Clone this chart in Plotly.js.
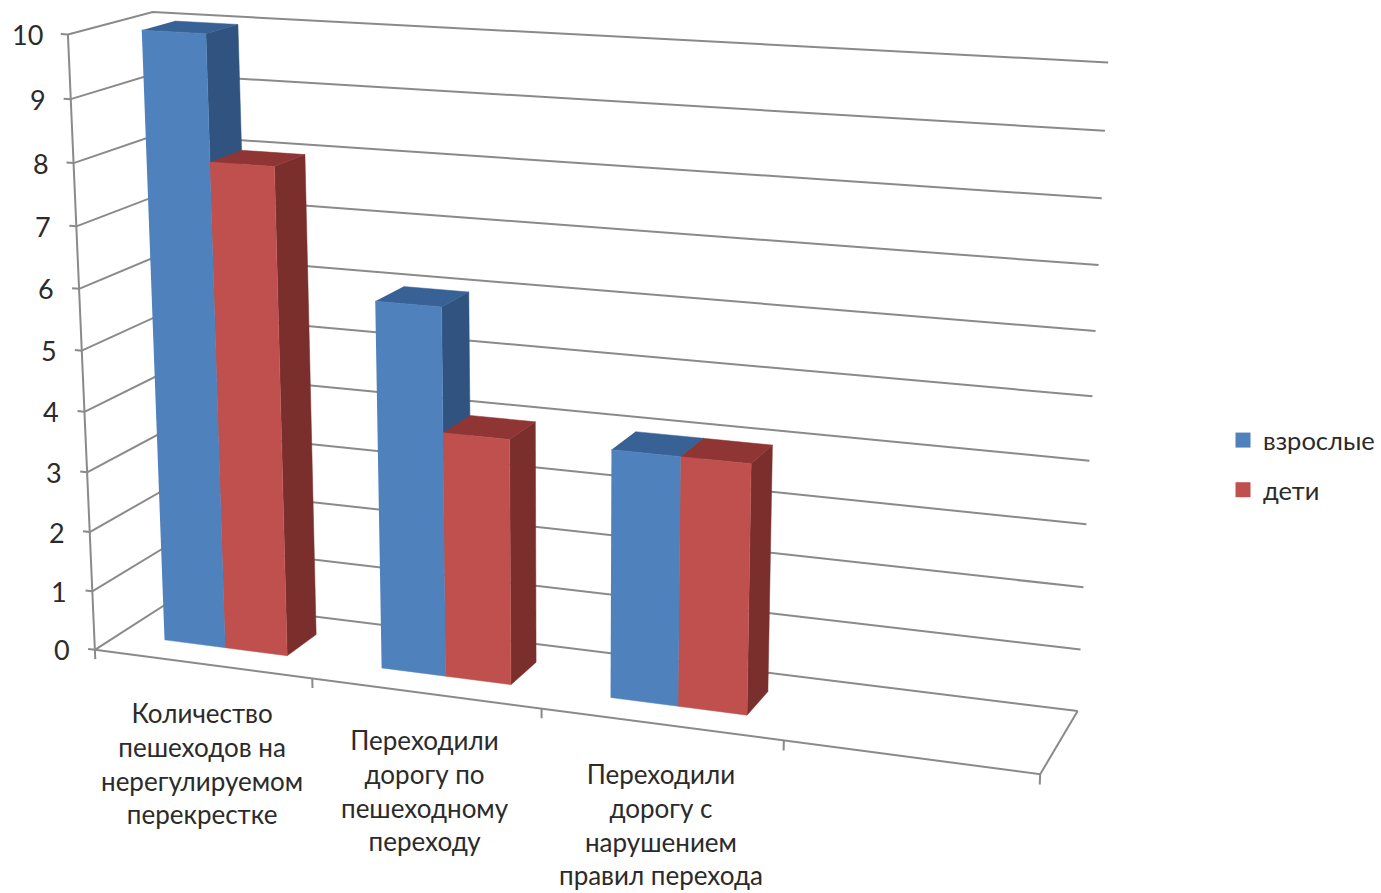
<!DOCTYPE html>
<html><head><meta charset="utf-8">
<script src="https://cdn.plot.ly/plotly-3.0.1.min.js"></script>
<style>html,body{margin:0;padding:0;background:#fff}#c{width:1381px;height:893px}</style></head>
<body><div id="c"></div>
<script>
const categories = ["Количество<br>пешеходов на<br>нерегулируемом<br>перекрестке",
                    "Переходили<br>дорогу по<br>пешеходному<br>переходу",
                    "Переходили<br>дорогу с<br>нарушением<br>правил перехода"];
const adults = [10, 6, 4];
const children = [8, 4, 4];
const seriesNames = ["взрослые", "дети"];
const valueTicks = [0,1,2,3,4,5,6,7,8,9,10];
const slots = 4;
const fontFamily = 'Lato, "Noto Sans", sans-serif';

// Perspective scale: (slot, value, depth) -> picture position, fitted from calibration of the box
const calibration = [
 [[0,0,0],[95,649]],[[1,0,0],[312,678]],[[2,0,0],[541,709]],[[3,0,0],[783,741]],[[4,0,0],[1040,775]],
 [[0,5,0],[81,347]],[[0,10,0],[68,34]],
 [[0,10,1],[152,12]],[[0,0,1],[174,600]],
 [[4,10,1],[1108,62]],[[4,5,1],[1093,395]],[[4,0,1],[1077,710]],
 [[0.214,10,0.3],[142,32]],[[0.214,0,0.3],[165,640]],[[1.214,6,0.3],[376,303]],
 [[2.214,4,0.3],[612,452]],[[2.214,0,0.3],[611,698]],[[2.786,4,0.3],[751,463]],[[2.786,0,0.3],[748,715]]
];
function solve(A,b){const n=b.length;const M=A.map((r,i)=>r.concat(b[i]));
 for(let i=0;i<n;i++){let p=i;for(let k=i+1;k<n;k++)if(Math.abs(M[k][i])>Math.abs(M[p][i]))p=k;
  [M[i],M[p]]=[M[p],M[i]];
  for(let k=i+1;k<n;k++){const f=M[k][i]/M[i][i];for(let j=i;j<=n;j++)M[k][j]-=f*M[i][j];}}
 const x=new Array(n);for(let i=n-1;i>=0;i--){let s=M[i][n];for(let j=i+1;j<n;j++)s-=M[i][j]*x[j];x[i]=s/M[i][i];}return x;}
const P=(function(){const rows=[],rhs=[];
 calibration.forEach(([w,p])=>{const X=p[0]/1000,Y=p[1]/1000,[a,b,c]=w;
  rows.push([a,b,c,1,0,0,0,0,-X*a,-X*b,-X*c]);rhs.push(X);
  rows.push([0,0,0,0,a,b,c,1,-Y*a,-Y*b,-Y*c]);rhs.push(Y);});
 const N=rows[0].map((_,i)=>rows[0].map((_,j)=>rows.reduce((s,r)=>s+r[i]*r[j],0)));
 const v=rows[0].map((_,i)=>rows.reduce((s,r,k)=>s+r[i]*rhs[k],0));
 return solve(N,v);})();
function proj(u,v,w){const d=P[8]*u+P[9]*v+P[10]*w+1;
 return [1000*(P[0]*u+P[1]*v+P[2]*w+P[3])/d,1000*(P[4]*u+P[5]*v+P[6]*w+P[7])/d];}

function poly(pts,extra){const q=pts.map(p=>proj(p[0],p[1],p[2]));
 return Object.assign({x:q.map(p=>p[0]),y:q.map(p=>p[1]),showlegend:false,hoverinfo:'skip',type:'scatter'},extra);}
const gridStyle={mode:'lines',line:{color:'#8a8a8a',width:2}};
const traces=[];
valueTicks.forEach(v=>traces.push(poly([[0,v,0],[0,v,1],[slots,v,1]],gridStyle)));
traces.push(poly([[0,0,0],[0,valueTicks[valueTicks.length-1],0]],gridStyle));
traces.push(poly([[0,0,0],[slots,0,0],[slots,0,1]],gridStyle));
valueTicks.forEach(v=>traces.push(poly([[-0.032,v,0],[0,v,0]],gridStyle)));
for(let i=0;i<=slots;i++)traces.push(poly([[i,-0.16,0],[i,0,0]],gridStyle));

const palette=[{front:'#4f81bd',side:'#30547f',top:'#386296'},{front:'#c0504d',side:'#7b2f2d',top:'#8f3634'}];
const barWidth=1/3.5, margin=(1-2*barWidth)/2, w1=0.3, w2=0.7;
function face(pts,color){return poly(pts,{mode:'lines',fill:'toself',fillcolor:color,line:{color:color,width:0.5}});}
categories.forEach((_,i)=>{
 [adults[i],children[i]].forEach((val,s)=>{
  const a=i+margin+s*barWidth,b=a+barWidth,c=palette[s];
  traces.push(face([[b,0,w1],[b,0,w2],[b,val,w2],[b,val,w1]],c.side));
  traces.push(face([[a,val,w1],[b,val,w1],[b,val,w2],[a,val,w2]],c.top));
  traces.push(face([[a,0,w1],[b,0,w1],[b,val,w1],[a,val,w1]],c.front));
 });
});
seriesNames.forEach((n,s)=>traces.push({type:'scatter',mode:'markers',name:n,x:[null],y:[null],legendgroup:n,
 marker:{symbol:'square',size:15,color:palette[s].front},hoverinfo:'skip'}));

const annotations=[];
valueTicks.forEach(v=>{const p=proj(0,v,0);
 annotations.push({x:p[0]-23,y:p[1],xref:'x',yref:'y',text:String(v),showarrow:false,xanchor:'right',yanchor:'middle',
  font:{family:fontFamily,size:27,color:'#2b2b2b'}});});
const labelDrop=[31,29,32];
categories.forEach((t,i)=>{const p=proj(i+0.5,0,0);
 annotations.push({x:p[0],y:p[1]+labelDrop[i],xref:'x',yref:'y',text:t,showarrow:false,xanchor:'center',yanchor:'top',align:'center',
  font:{family:fontFamily,size:26,color:'#2b2b2b'}});});

Plotly.newPlot('c',traces,{
 width:1381,height:893,margin:{l:0,r:0,t:0,b:0},paper_bgcolor:'#fff',plot_bgcolor:'#fff',
 xaxis:{range:[0,1381],visible:false,fixedrange:true},
 yaxis:{range:[893,0],visible:false,fixedrange:true},
 hovermode:false,
 legend:{x:1223/1381,y:1-417/893,xanchor:'left',yanchor:'top',tracegroupgap:13.5,font:{family:fontFamily,size:25.5,color:'#2b2b2b'},bgcolor:'rgba(0,0,0,0)'},
 showlegend:true,annotations
},{displayModeBar:false,staticPlot:true});
</script></body></html>
